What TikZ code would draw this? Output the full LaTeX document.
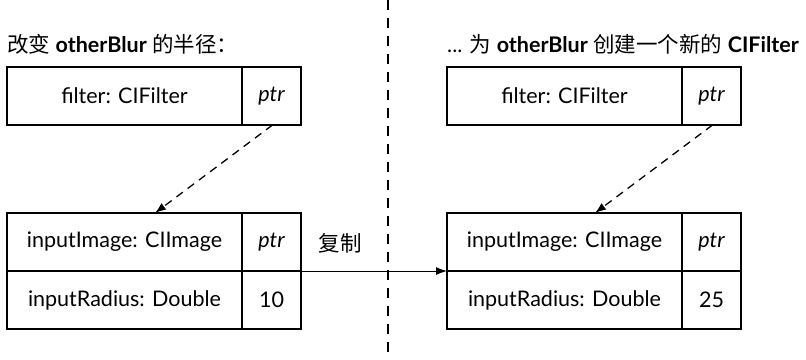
\documentclass[tikz,border=0pt]{standalone}
\usepackage{fontspec}
\setmainfont{Lato}
\newfontfamily\cjk{Noto Sans CJK SC}
\usetikzlibrary{arrows.meta,positioning}

\tikzset{
    cell/.style={draw, line width=1.3pt, minimum height=58pt, inner sep=0pt, outer sep=0pt},
    namecell/.style={cell, minimum width=235pt},
    valcell/.style={cell, minimum width=59pt},
    ptrarrow/.style={-{Latex[length=11pt,width=8pt]}, dashed, line width=1.3pt, dash pattern=on 8pt off 6pt},
    copyarrow/.style={-{Latex[length=11pt,width=8pt]}, line width=1pt}
}

\begin{document}
\begin{tikzpicture}[x=1pt,y=-1pt,font=\fontsize{21.5}{25}\selectfont]
    \useasboundingbox (0,0) rectangle (806,359);

    % left: before copy
    \node [anchor=west, inner sep=0pt] (titleL) at (7,44) {{\cjk 改变} \textbf{otherBlur} {\cjk 的半径：}};
    \node [namecell, anchor=north west] (filterL) at (7,67) {filter: CIFilter};
    \node [valcell, anchor=west] (fptrL) at (filterL.east) {\itshape ptr};
    \node [namecell, anchor=north west] (imageL) at (7,213) {inputImage: CIImage};
    \node [valcell, anchor=west] (iptrL) at (imageL.east) {\itshape ptr};
    \node [namecell, anchor=north] (radiusL) at (imageL.south) {inputRadius: Double};
    \node [valcell, anchor=west] (rvalL) at (radiusL.east) {10};

    % right: after copy
    \node [anchor=west, inner sep=0pt] (titleR) at (447,44) {... {\cjk 为} \textbf{otherBlur} {\cjk 创建一个新的} \textbf{CIFilter}};
    \node [namecell, anchor=north west] (filterR) at (447,67) {filter: CIFilter};
    \node [valcell, anchor=west] (fptrR) at (filterR.east) {\itshape ptr};
    \node [namecell, anchor=north west] (imageR) at (447,213) {inputImage: CIImage};
    \node [valcell, anchor=west] (iptrR) at (imageR.east) {\itshape ptr};
    \node [namecell, anchor=north] (radiusR) at (imageR.south) {inputRadius: Double};
    \node [valcell, anchor=west] (rvalR) at (radiusR.east) {25};

    % pointers
    \draw [ptrarrow] ([xshift=1pt]fptrL.south) -- ([xshift=30.5pt]imageL.north);
    \draw [ptrarrow] ([xshift=1pt]fptrR.south) -- ([xshift=30.5pt]imageR.north);

    % divider
    \coordinate (divtop) at (388,0);
    \coordinate (divbot) at (388,359);
    \draw [line width=1.3pt, dash pattern=on 10pt off 8pt] (divtop) -- (divbot);

    % copy
    \draw [copyarrow] (iptrL.south east) -- node [above=14pt, xshift=-34pt] (copylbl) {\cjk 复制} (imageR.south west);
\end{tikzpicture}
\end{document}
